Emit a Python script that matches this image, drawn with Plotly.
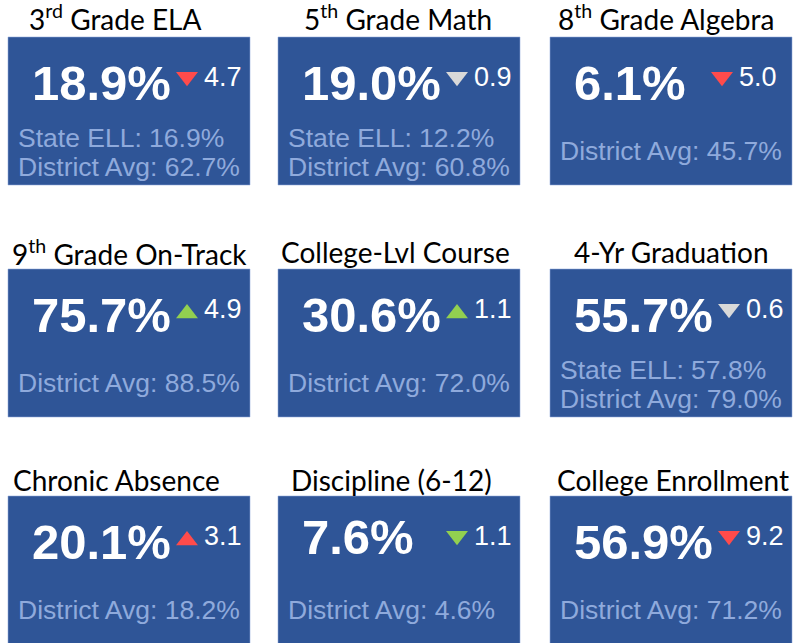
import plotly.graph_objects as go

# ---------------- data ----------------
titles = ["3<sup>rd</sup> Grade ELA", "5<sup>th</sup> Grade Math", "8<sup>th</sup> Grade Algebra",
          "9<sup>th</sup> Grade On-Track", "College-Lvl Course", "4-Yr Graduation",
          "Chronic Absence", "Discipline (6-12)", "College Enrollment"]
values = [18.9, 19.0, 6.1, 75.7, 30.6, 55.7, 20.1, 7.6, 56.9]
deltas = [-4.7, -0.9, -5.0, 4.9, 1.1, -0.6, 3.1, -1.1, -9.2]
delta_status = ["bad", "flat", "bad", "good", "good", "flat", "bad", "good", "bad"]
state_ell = [16.9, 12.2, None, None, None, 57.8, None, None, None]
district_avg = [62.7, 60.8, 45.7, 88.5, 72.0, 79.0, 18.2, 4.6, 71.2]

# ---------------- layout / style ----------------
W, H = 801, 643
col_left = [8, 278, 550]
row_top = [37, 269, 496]
tile_w, tile_h = 242, 148
title_cy = [17, 252, 480]
title_dx = [-14, -1, -5, 0, -4, 0, -13, -8, 2]
num_dy = {7: -5}          # small per-tile vertical tweak of the main number
delta_dx = {2: -7}        # small per-tile horizontal tweak of the delta group
status_color = {"bad": "#FF4B4B", "flat": "#D9D9D9", "good": "#92D050"}
tile_color = "#2F5597"
sub_color = "#8FAADC"
num_font = "Liberation Sans, Arial, sans-serif"
title_font = "Lato, Open Sans, sans-serif"

fig = go.Figure()
shapes, annotations = [], []
tri_x, tri_y, tri_sym, tri_col = [], [], [], []
tri_size = 19

for i in range(len(values)):
    r, c = divmod(i, 3)
    x0, y0 = col_left[c], row_top[r]
    shapes.append(dict(type="rect", xref="x", yref="y", x0=x0, x1=x0 + tile_w, y0=y0, y1=y0 + tile_h,
                       fillcolor=tile_color, line=dict(color="rgba(143,170,220,0.55)", width=1), layer="below"))
    # title
    annotations.append(dict(x=x0 + tile_w / 2 + title_dx[i], y=title_cy[r], text=titles[i], showarrow=False,
                            xanchor="center", yanchor="middle",
                            font=dict(family=title_font, size=28, color="black")))
    # main value
    annotations.append(dict(x=x0 + 22, y=y0 + 46 + num_dy.get(i, 0), text=f"{values[i]:.1f}%", showarrow=False,
                            xanchor="left", yanchor="middle",
                            font=dict(family=num_font, size=49, color="white", weight="bold")))
    # delta value
    ddx = delta_dx.get(i, 0)
    annotations.append(dict(x=x0 + 194 + ddx, y=y0 + 40, text=f"{abs(deltas[i]):.1f}", showarrow=False,
                            xanchor="left", yanchor="middle",
                            font=dict(family=num_font, size=27, color="white")))
    # triangle
    up = deltas[i] > 0
    tri_x.append(x0 + 179 + ddx)
    tri_y.append(y0 + 42 + (tri_size / 8 if up else -tri_size / 8))
    tri_sym.append("triangle-up" if up else "triangle-down")
    tri_col.append(status_color[delta_status[i]])
    # sub lines
    if state_ell[i] is not None:
        annotations.append(dict(x=x0 + 8, y=y0 + 101, text=f"State ELL: {state_ell[i]:.1f}%", showarrow=False,
                                xanchor="left", yanchor="middle",
                                font=dict(family=num_font, size=26.5, color=sub_color)))
        dy = 130
    else:
        dy = 114
    annotations.append(dict(x=x0 + 8, y=y0 + dy, text=f"District Avg: {district_avg[i]:.1f}%", showarrow=False,
                            xanchor="left", yanchor="middle",
                            font=dict(family=num_font, size=26.5, color=sub_color)))

fig.add_trace(go.Scatter(x=tri_x, y=tri_y, mode="markers", hoverinfo="skip",
                         marker=dict(symbol=tri_sym, size=tri_size, color=tri_col, line=dict(width=0))))

fig.update_layout(
    width=W, height=H, margin=dict(l=0, r=0, t=0, b=0),
    paper_bgcolor="white", plot_bgcolor="white", showlegend=False,
    xaxis=dict(range=[0, W], visible=False, fixedrange=True),
    yaxis=dict(range=[H, 0], visible=False, fixedrange=True),
    shapes=shapes, annotations=annotations,
)

fig.write_html("out.html", config={"displayModeBar": False},
               post_script="document.body.style.margin='0';document.body.style.overflow='hidden';")
